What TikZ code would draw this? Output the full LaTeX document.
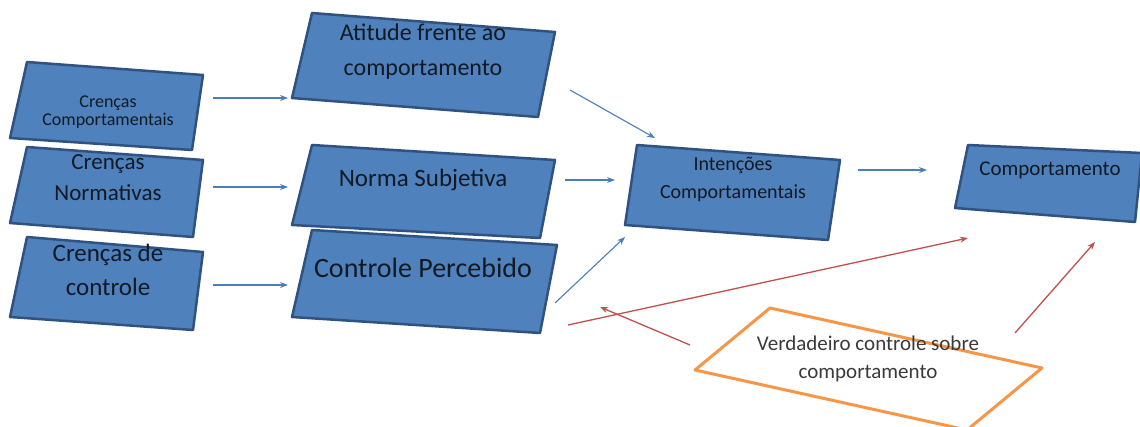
\documentclass[tikz,border=0pt]{standalone}
\usepackage{fontspec}
\setmainfont{Carlito}
\usetikzlibrary{arrows.meta}
\definecolor{boxblue}{HTML}{4F81BD}
\definecolor{boxline}{HTML}{2F5280}
\definecolor{arrblue}{HTML}{4A7EBB}
\definecolor{arrred}{HTML}{C0504D}
\definecolor{boxorange}{HTML}{F79646}
\definecolor{txtdark}{HTML}{111A24}
\definecolor{txtgray}{HTML}{3A3A3A}
\newcommand{\fs}[2]{\fontsize{#1}{#2}\selectfont}
\tikzset{
  blk/.style={fill=boxblue, draw=boxline, line width=2.5, line join=round},
  lbl/.style={text=txtdark, align=center, inner sep=0},
  bluearr/.style={draw=arrblue, line width=1.1, -{Stealth[length=8,width=6]}},
  redarr/.style={draw=arrred, line width=1.3, -{Stealth[length=8,width=6]}},
}
\begin{document}
\begin{tikzpicture}[x=1pt, y=-1pt]
\useasboundingbox (0,0) rectangle (1140,427);
% boxes
\draw[blk] (27,62) -- (203,75) -- (192,150) -- (10,138) -- cycle;
\draw[blk] (27,147) -- (203,160) -- (193,237) -- (10,223) -- cycle;
\draw[blk] (27,237) -- (203,252) -- (193,330) -- (10,317) -- cycle;
\draw[blk] (312,13) -- (555,32) -- (538,117) -- (292,98) -- cycle;
\draw[blk] (312,145) -- (555,160) -- (540,238) -- (292,225) -- cycle;
\draw[blk] (312,230) -- (557,245) -- (540,333) -- (292,317) -- cycle;
\draw[blk] (637,145) -- (840,160) -- (828,240) -- (625,225) -- cycle;
\draw[blk] (968,145) -- (1142,153) -- (1135,222) -- (955,208) -- cycle;
\draw[draw=boxorange, line width=3, line join=round] (695,370) -- (770,308) -- (1042,368) -- (967,430) -- cycle;
% labels
\node[lbl, font=\fs{18}{18}] (cc) at (108,112) {Crenças\\Comportamentais};
\node[lbl, font=\fs{23}{31}] (cn) at (108,178) {Crenças\\Normativas};
\node[lbl, font=\fs{25}{34}] (cd) at (108,270) {Crenças de\\controle};
\node[lbl, font=\fs{24}{35}] (at) at (423,52) {Atitude frente ao\\comportamento};
\node[lbl, font=\fs{25}{30}] (ns) at (423,180) {Norma Subjetiva};
\node[lbl, font=\fs{28}{30}] (cp) at (423,268) {Controle Percebido};
\node[lbl, font=\fs{20}{28}] (ic) at (733,179) {Intenções\\Comportamentais};
\node[lbl, font=\fs{21}{28}] (co) at (1050,170) {Comportamento};
\node[lbl, text=txtgray, font=\fs{21}{28}] (vc) at (868,359) {Verdadeiro controle sobre\\comportamento};
% arrow ends
\coordinate (cc-o) at (213,98);  \coordinate (at-i) at (288,98);
\coordinate (cn-o) at (213,187); \coordinate (ns-i) at (288,187);
\coordinate (cd-o) at (213,285); \coordinate (cp-i) at (288,285);
\coordinate (at-o) at (570,90);  \coordinate (ic-i1) at (655,138);
\coordinate (ns-o) at (565,180); \coordinate (ic-i2) at (615,180);
\coordinate (cp-o) at (555,303); \coordinate (ic-i3) at (625,237);
\coordinate (ic-o) at (858,170); \coordinate (co-i1) at (927,170);
\coordinate (cp-o2) at (568,325); \coordinate (co-i2) at (968,238);
\coordinate (vc-o1) at (690,345); \coordinate (cp-i2) at (600,307);
\coordinate (vc-o2) at (1015,333); \coordinate (co-i3) at (1095,242);
\draw[bluearr] (cc-o) -- (at-i);
\draw[bluearr] (cn-o) -- (ns-i);
\draw[bluearr] (cd-o) -- (cp-i);
\draw[bluearr] (at-o) -- (ic-i1);
\draw[bluearr] (ns-o) -- (ic-i2);
\draw[bluearr] (cp-o) -- (ic-i3);
\draw[bluearr] (ic-o) -- (co-i1);
\draw[redarr] (cp-o2) -- (co-i2);
\draw[redarr] (vc-o1) -- (cp-i2);
\draw[redarr] (vc-o2) -- (co-i3);
\end{tikzpicture}
\end{document}
